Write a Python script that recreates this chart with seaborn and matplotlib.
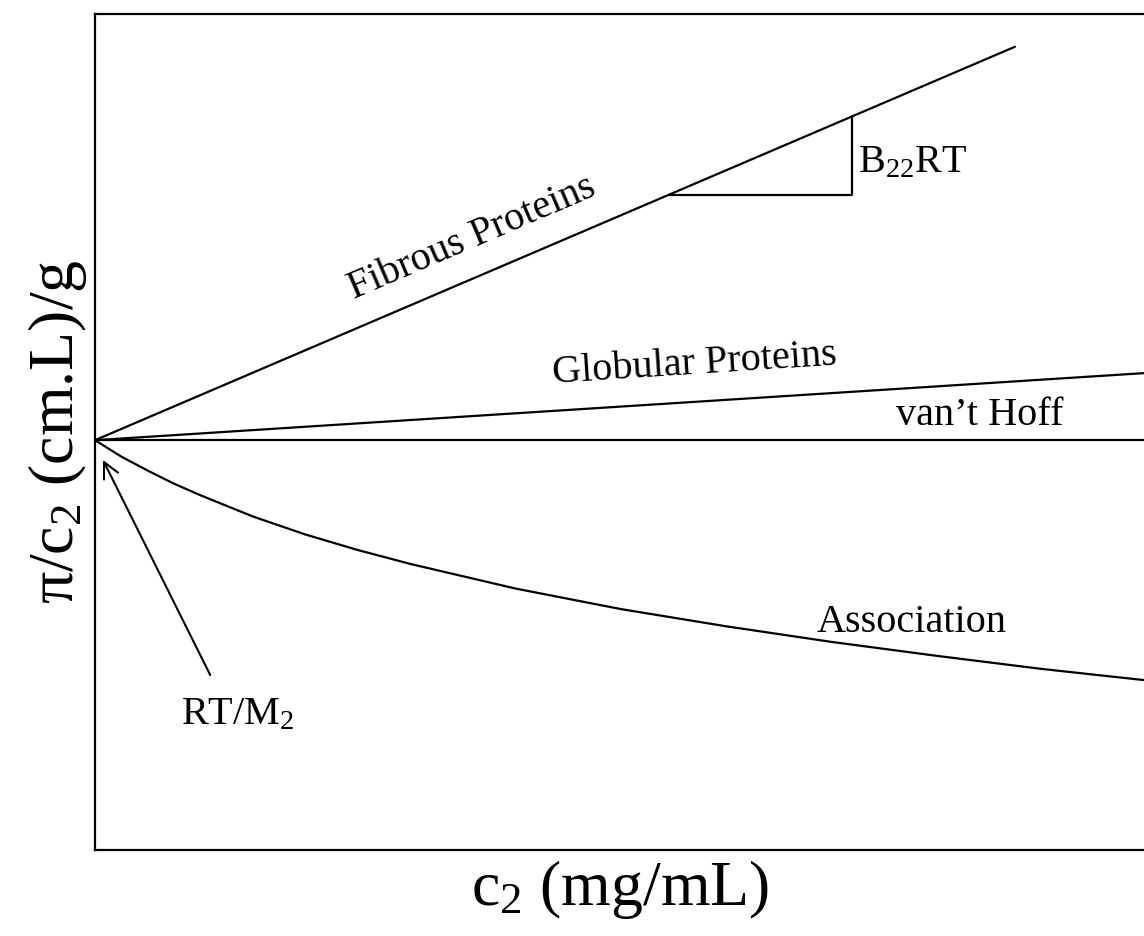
import matplotlib
matplotlib.use("Agg")
import matplotlib.pyplot as plt
import numpy as np
import pandas as pd
import seaborn as sns

sns.set_style("white")
plt.rcParams["font.family"] = ["Liberation Serif", "DejaVu Serif"]
plt.rcParams["mathtext.fontset"] = "custom"
plt.rcParams["mathtext.rm"] = "Liberation Serif"
plt.rcParams["mathtext.it"] = "Liberation Serif:italic"
plt.rcParams["mathtext.default"] = "regular"
plt.rcParams["text.color"] = "black"
plt.rcParams["axes.labelcolor"] = "black"

# Schematic osmotic-pressure curves: pi/c2 versus c2
intercept = 5.0                 # RT/M2
fibrous_c = [0.0, 8.75]
fibrous_y = [5.0, 9.80]
globular_c = [0.0, 10.0]
globular_y = [5.0, 5.82]
vanthoff_c = [0.0, 10.0]
vanthoff_y = [5.0, 5.0]
assoc_c = [0.0, 0.25, 0.5, 0.75, 1.0, 1.5, 2.0, 2.5, 3.0, 4.0, 5.0, 6.0, 7.0, 8.0, 9.0, 10.0]
assoc_y = [5.0, 4.80, 4.63, 4.47, 4.33, 4.07, 3.85, 3.66, 3.49, 3.19, 2.94, 2.73, 2.54, 2.37, 2.21, 2.07]

# slope triangle on the fibrous line
tri_c = [5.46, 7.20]

fig = plt.figure(figsize=(11.44, 9.36), dpi=100)
ax = fig.add_axes([95 / 1144, 86 / 936, 1 - 95 / 1144 + 0.002, (850 - 14) / 936])

series = [
    (fibrous_c, fibrous_y),
    (globular_c, globular_y),
    (vanthoff_c, vanthoff_y),
    (assoc_c, assoc_y),
]
for cx, cy in series:
    df = pd.DataFrame({"c2": cx, "pc": cy})
    sns.lineplot(data=df, x="c2", y="pc", ax=ax, color="black", lw=1.6,
                 estimator=None, sort=False)

# slope triangle
slope = (fibrous_y[1] - fibrous_y[0]) / (fibrous_c[1] - fibrous_c[0])
y_a = intercept + slope * tri_c[0]
y_b = intercept + slope * tri_c[1]
ax.plot([tri_c[0], tri_c[1], tri_c[1]], [y_a, y_a, y_b], color="black", lw=1.6)

ax.set_xlim(0, 10)
ax.set_ylim(0, 10.2)
ax.set_xticks([])
ax.set_yticks([])
for side, sp in ax.spines.items():
    sp.set_color("black")
    sp.set_linewidth(1.6)
ax.spines["right"].set_visible(False)

fs = 29
ax.text(3.59, 7.47, "Fibrous Proteins", fontsize=fs, rotation=23.2,
        ha="center", va="center", rotation_mode="anchor")
ax.text(5.70, 5.92, "Globular Proteins", fontsize=fs, rotation=3.7,
        ha="center", va="center", rotation_mode="anchor")
ax.text(8.42, 5.30, "van\u2019t Hoff", fontsize=fs, ha="center", va="center")
ax.text(7.77, 2.78, "Association", fontsize=fs, ha="center", va="center")
ax.text(7.26, 8.38, r"B$_{22}$RT", fontsize=fs, ha="left", va="center")
ax.text(1.36, 1.65, r"RT/M$_2$", fontsize=fs, ha="center", va="center")
ax.annotate("", xy=(0.076, 4.758), xytext=(1.096, 2.135),
            arrowprops=dict(arrowstyle="->", color="black", lw=1.5,
                            mutation_scale=28, shrinkA=0, shrinkB=0))

ax.set_xlabel(r"c$_2$ (mg/mL)", fontsize=46, labelpad=6)
ax.set_ylabel("\u03c0/c$_2$ (cm.L)/g", fontsize=46, labelpad=4)

fig.savefig("out.png", dpi=100)
